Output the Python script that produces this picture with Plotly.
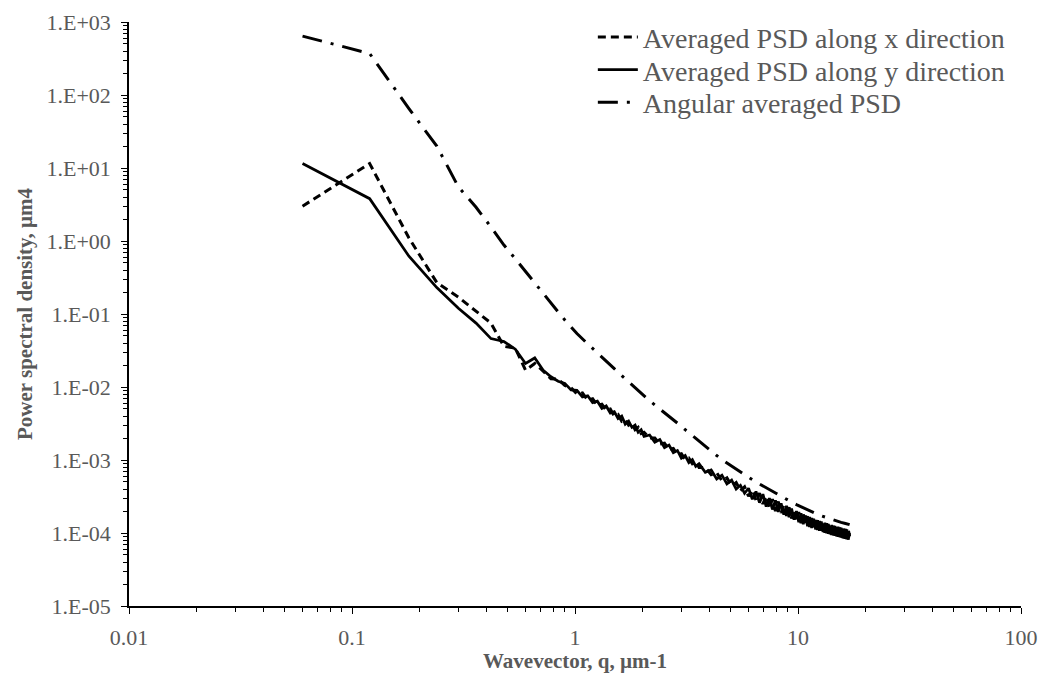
import plotly.graph_objects as go

# ---- data ----
Q_XY = [0.06, 0.12, 0.18, 0.24, 0.30, 0.36, 0.42, 0.48, 0.54, 0.60, 0.66, 0.72, 0.78, 0.84, 0.90, 0.96,
        1.02, 1.08, 1.14, 1.20, 1.26, 1.32, 1.38, 1.44, 1.50, 1.56, 1.62, 1.68, 1.74, 1.80, 1.86, 1.92,
        1.98, 2.04, 2.16, 2.28, 2.40, 2.52, 2.64, 2.76, 2.88, 3.00, 3.12, 3.24, 3.36, 3.48, 3.60, 3.84,
        4.08, 4.32, 4.56, 4.80, 5.04, 5.28, 5.52, 5.76, 6.00, 6.24, 6.48, 6.72, 6.96, 7.20, 7.44, 7.68,
        7.92, 8.16, 8.40, 8.64, 8.88, 9.12, 9.36, 9.60, 9.84, 10.08, 10.32, 10.56, 10.80, 11.04, 11.28,
        11.52, 11.76, 12.00, 12.24, 12.48, 12.72, 12.96, 13.20, 13.44, 13.68, 13.92, 14.16, 14.40, 14.64,
        14.88, 15.12, 15.36, 15.60, 15.84, 16.08, 16.32, 16.56, 16.80, 17.04]

PSD_X = [3.0, 11.5, 1.1, 0.27, 0.17, 0.11, 0.075, 0.036, 0.034, 0.017, 0.021, 0.0165, 0.0130, 0.0128,
         0.0105, 0.0098,
         0.0080, 0.0083, 0.0066, 0.0069, 0.0056, 0.0058, 0.0048, 0.0050, 0.0040, 0.0042, 0.0034, 0.0036,
         0.0030, 0.0032, 0.0026, 0.0028, 0.0023, 0.0024,
         0.0020, 0.0020, 0.00165, 0.00170, 0.00140, 0.00144, 0.00118, 0.00122, 0.00101, 0.00106, 0.00089,
         0.00094, 0.00079,
         0.00079, 0.00063, 0.00067, 0.00052, 0.00057, 0.00044, 0.00049, 0.00038, 0.00043,
         0.00032, 0.00039, 0.00028, 0.00035, 0.00025, 0.00032, 0.00022, 0.00029, 0.00020, 0.00027,
         0.000188, 0.000244, 0.000172, 0.000225, 0.000158, 0.000208, 0.000146, 0.000193, 0.000136, 0.000180,
         0.000128, 0.000170, 0.000121, 0.000160, 0.000115, 0.000153, 0.000110, 0.000146, 0.000105, 0.000140,
         0.000101, 0.000136, 0.000098, 0.000131, 0.000094, 0.000126, 0.000092, 0.000123, 0.000089, 0.000119,
         0.000087, 0.000116, 0.000084, 0.000114, 0.000082, 0.000111, 0.000090]

PSD_Y = [11.5, 3.8, 0.62, 0.23, 0.12, 0.075, 0.046, 0.042, 0.033, 0.021, 0.025, 0.017, 0.0138, 0.0120,
         0.0112, 0.0091,
         0.0090, 0.0073, 0.0076, 0.0061, 0.0064, 0.0051, 0.0055, 0.0044, 0.0046, 0.0037, 0.0040, 0.0031,
         0.0034, 0.0028, 0.0030, 0.0024, 0.0026, 0.0021,
         0.0022, 0.00175, 0.0019, 0.00148, 0.0016, 0.00126, 0.00135, 0.00106, 0.00115, 0.00092, 0.00101,
         0.00082, 0.00089,
         0.00068, 0.00073, 0.00055, 0.00062, 0.00047, 0.00053, 0.00040, 0.00045, 0.00035,
         0.00041, 0.00029, 0.00037, 0.00026, 0.00034, 0.00023, 0.00030, 0.00021, 0.00028, 0.000195,
         0.000255, 0.000178, 0.000235, 0.000165, 0.000216, 0.000152, 0.000200, 0.000141, 0.000186, 0.000132,
         0.000174, 0.000124, 0.000165, 0.000117, 0.000157, 0.000112, 0.000150, 0.000107, 0.000144, 0.000103,
         0.000138, 0.000099, 0.000133, 0.000096, 0.000129, 0.000093, 0.000125, 0.000090, 0.000122, 0.000088,
         0.000118, 0.000085, 0.000115, 0.000083, 0.000112, 0.000081, 0.000100]

Q_ANG = [0.06, 0.12, 0.18, 0.24, 0.30, 0.36, 0.42, 0.48, 0.54, 0.60, 0.66, 0.72, 0.78, 0.84, 0.90, 0.96,
         1.02, 1.14, 1.26, 1.38, 1.50, 1.62, 1.74, 1.86, 1.98, 2.16, 2.40, 2.64, 2.88, 3.12, 3.36, 3.60,
         3.96, 4.32, 4.68, 5.04, 5.52, 6.00, 6.48, 6.96, 7.44, 7.92, 8.40, 8.88, 9.36, 9.84, 10.56, 11.28,
         12.00, 12.72, 13.44, 14.16, 14.88, 15.60, 16.32, 17.04]

PSD_ANG = [640, 370, 65, 20, 5.5, 2.9, 1.55, 0.88, 0.57, 0.38, 0.27, 0.19, 0.14, 0.107, 0.083, 0.066,
           0.054, 0.039, 0.029, 0.0225, 0.0178, 0.0143, 0.0117, 0.0097, 0.0082, 0.0065, 0.0050, 0.0040,
           0.0032, 0.0026, 0.00215, 0.0018, 0.00142, 0.00115, 0.00096, 0.00082, 0.00068, 0.00058, 0.00050,
           0.00044, 0.00039, 0.00035, 0.00032, 0.00029, 0.000265, 0.000245, 0.000220, 0.000200, 0.000185,
           0.000172, 0.000162, 0.000154, 0.000147, 0.000140, 0.000135, 0.000130]

X_TICKS = [0.01, 0.1, 1, 10, 100]
X_TICK_TEXT = ["0.01", "0.1", "1", "10", "100"]
Y_TICKS = [1e-5, 1e-4, 1e-3, 1e-2, 1e-1, 1e0, 1e1, 1e2, 1e3]
Y_TICK_TEXT = ["1.E-05", "1.E-04", "1.E-03", "1.E-02", "1.E-01", "1.E+00", "1.E+01", "1.E+02", "1.E+03"]

SERIF = "Liberation Serif, Times New Roman, serif"
GREY = "#595959"

fig = go.Figure()
fig.add_trace(go.Scatter(x=Q_XY, y=PSD_X, mode="lines", name="Averaged PSD along x direction",
                         legend="legend",
                         line=dict(color="black", width=3, dash="8px,5px")))
fig.add_trace(go.Scatter(x=Q_XY, y=PSD_Y, mode="lines", name="Averaged PSD along y direction",
                         legend="legend2",
                         line=dict(color="black", width=2.75)))
fig.add_trace(go.Scatter(x=Q_ANG, y=PSD_ANG, mode="lines", name="Angular averaged PSD",
                         legend="legend3",
                         line=dict(color="black", width=3, dash="20px,9px,3px,9px")))

axis_common = dict(
    type="log", showgrid=False, zeroline=False, showline=True, linecolor="black", linewidth=1.5,
    ticks="outside", ticklen=6, tickwidth=1.3, tickcolor="black", automargin=False,
    tickfont=dict(family=SERIF, size=22, color=GREY),
    minor=dict(ticks="outside", ticklen=4, tickwidth=1.1, tickcolor="black", dtick="D1", showgrid=False),
)

fig.update_xaxes(range=[-2, 2], tickvals=X_TICKS, ticktext=X_TICK_TEXT, ticklabelstandoff=5,
                 title=dict(text="Wavevector, q, µm-1", standoff=3,
                            font=dict(family=SERIF, size=21, color=GREY, weight="bold")),
                 **axis_common)
fig.update_yaxes(range=[-5, 3], tickvals=Y_TICKS, ticktext=Y_TICK_TEXT, ticklabelstandoff=6,
                 title=dict(text="Power spectral density, µm4", standoff=8,
                            font=dict(family=SERIF, size=21, color=GREY, weight="bold")),
                 **axis_common)

legend_style = dict(x=0.52, xanchor="left", yanchor="middle", bgcolor="rgba(0,0,0,0)",
                    font=dict(family=SERIF, size=28, color=GREY), itemwidth=40)

fig.update_layout(
    width=1042, height=673,
    margin=dict(l=129, r=21, t=22, b=67),
    paper_bgcolor="white", plot_bgcolor="white",
    showlegend=True,
    legend=dict(y=0.974, **legend_style),
    legend2=dict(y=0.918, **legend_style),
    legend3=dict(y=0.862, **legend_style),
)

fig.write_html("out.html")
